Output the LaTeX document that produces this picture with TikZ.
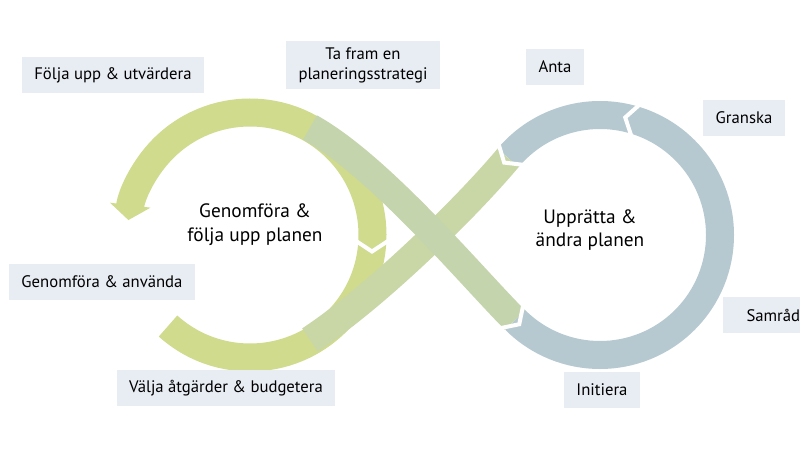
\documentclass[tikz,border=0pt]{standalone}
\usepackage{fontspec}
\setmainfont{PT Sans}
\usetikzlibrary{arrows.meta,positioning}
\definecolor{loopleft}{RGB}{208,219,142}
\definecolor{strandone}{RGB}{196,212,172}
\definecolor{strandtwo}{RGB}{200,215,165}
\definecolor{loopright}{RGB}{182,201,208}
\definecolor{tagfill}{RGB}{232,236,243}
\tikzset
{
    band/.style    = {line width=0.56cm},
    stage/.style   = {fill=tagfill, align=center, inner xsep=7pt, minimum height=0.72cm, font=\fontsize{9.5}{11.5}\selectfont},
    phase/.style   = {align=center, font=\fontsize{11}{13.5}\selectfont},
    notchline/.style = {draw=white, line width=0.08cm, line join=miter}
}
\newcommand{\notch}[3]{\draw[notchline, shift={(#1,#2)}, rotate=#3] (-0.13,-0.38) -- (0.12,0) -- (-0.13,0.38);}

\begin{document}
\begin{tikzpicture}
\clip (0,0) rectangle (16,9);
\fill[white] (0,0) rectangle (16,9);

%% loops
\draw[band, loopright] ([shift={(225:2.4)}]12,4.3) arc[start angle=225, end angle=500, radius=2.4];
\draw[band, loopleft, -{Triangle[length=0.3cm, width=0.8cm]}] ([shift={(228:2.45)}]5,4.3) arc[start angle=228, end angle=533, radius=2.45];

%% strands
\draw[band, strandtwo] (10.16,5.84) .. controls (9.39,4.92) and (7.59,3.12) .. (6.2,2.2);
\draw[band, strandone] (6.2,6.45) .. controls (7.59,5.68) and (9.45,3.45) .. (10.30,2.60);

%% notches
\notch{7.44}{4.09}{-90}
\notch{10.16}{5.84}{-130}
\notch{12.62}{6.62}{165}
\notch{10.30}{2.60}{-45}

\node (follow)   [stage] at (2.26,7.5)  {Följa upp \& utvärdera};
\node (strategy) [stage] at (7.26,7.7)  {Ta fram en\\planeringsstrategi};
\node (adopt)    [stage] at (11.1,7.66) {Anta};
\node (review)   [stage] at (14.88,6.64){Granska};
\node (consult)  [stage, anchor=west, minimum width=2cm, align=left] at (14.46,2.7) {Samråd};
\node (use)      [stage] at (2.04,3.36) {Genomföra \& använda};
\node (choose)   [stage] at (4.52,1.24) {Välja åtgärder \& budgetera};
\node (start)    [stage] at (12.04,1.2) {Initiera};

\node (execute)  [phase] at (5.1,4.5)   {Genomföra \&\\följa upp planen};
\node (draft)    [phase] at (11.8,4.4)  {Upprätta \&\\ändra planen};
\end{tikzpicture}
\end{document}
